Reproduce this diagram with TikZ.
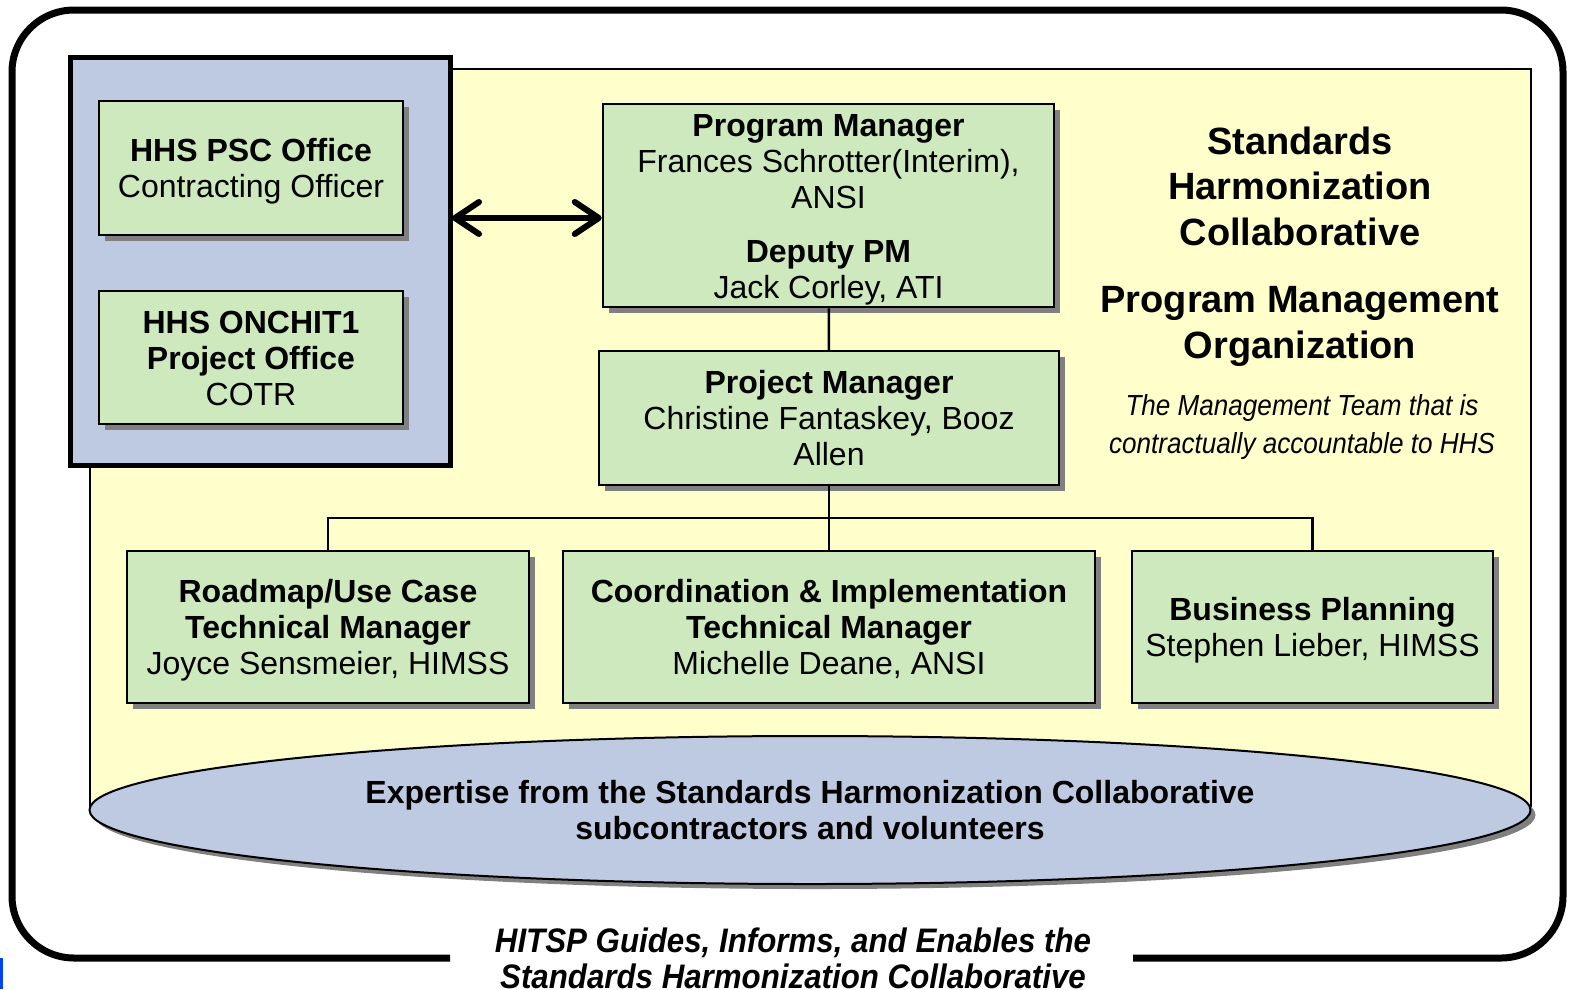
\documentclass[tikz,border=0pt]{standalone}
\usepackage{fontspec}
\setmainfont{Liberation Sans}
\newfontfamily\narrowfont[FakeStretch=0.9]{Liberation Sans}
\newfontfamily\captionfont[FakeStretch=0.92]{Liberation Sans}
\usetikzlibrary{arrows.meta,shapes.geometric,shadows}
\definecolor{pmgreen}{RGB}{205,233,189}
\definecolor{pmyellow}{RGB}{255,255,204}
\definecolor{pmblue}{RGB}{190,201,226}
\definecolor{pmshadow}{RGB}{128,128,128}
\newcommand\toprow{\rule{0pt}{30pt}}
\begin{document}
\begin{tikzpicture}[x=1pt,y=-1pt,
    rolebox/.style={draw, line width=2.5pt, fill=pmgreen, align=center, inner sep=0pt,
        font=\fontsize{32}{36}\selectfont,
        execute at end node={\rule[-7pt]{0pt}{0pt}},
        drop shadow={shadow xshift=6pt, shadow yshift=-6pt, fill=pmshadow, opacity=1}},
    link/.style={line width=2.5pt}]
\useasboundingbox (0,0) rectangle (1570,989);
\fill[blue!75!cyan] (0,958) rectangle (3,989);
\draw[line width=7pt, rounded corners=62pt] (450,958) -- (12,958) -- (12,10) -- (1563,10) -- (1563,958) -- (1133,958);
\filldraw[fill=pmyellow, line width=1.5pt] (90,808) -- (90,69) -- (1531,69) -- (1531,808);
\node[ellipse, draw, line width=2pt, fill=pmblue, minimum width=1441pt, minimum height=148pt,
    drop shadow={shadow xshift=5pt, shadow yshift=-5pt, fill=pmshadow, opacity=1},
    align=center, font=\fontsize{32}{36}\selectfont\bfseries] (expertise) at (810,810)
    {Expertise from the Standards Harmonization Collaborative\\subcontractors and volunteers};
\filldraw[fill=pmblue, line width=5pt] (70,57) rectangle (450,465);
\node[rolebox, minimum width=304pt, minimum height=134pt] (psc) at (251,168)
    {\toprow\textbf{HHS PSC Office}\\Contracting Officer};
\node[rolebox, minimum width=304pt, minimum height=133pt] (onchit) at (251,357.5)
    {\toprow\textbf{HHS ONCHIT1}\\\textbf{Project Office}\\COTR};
\node[rolebox, minimum width=451pt, minimum height=203pt] (pm) at (828.5,205.5)
    {\toprow\textbf{Program Manager}\\Frances Schrotter(Interim),\\ANSI\\[18pt]\textbf{Deputy PM}\\Jack Corley, ATI};
\node[rolebox, minimum width=460pt, minimum height=134pt] (prj) at (829,418)
    {\toprow\textbf{Project Manager}\\Christine Fantaskey, Booz\\Allen};
\node[rolebox, minimum width=402pt, minimum height=152pt] (road) at (328,627)
    {\toprow\textbf{Roadmap/Use Case}\\\textbf{Technical Manager}\\Joyce Sensmeier, HIMSS};
\node[rolebox, minimum width=532pt, minimum height=152pt] (coord) at (829,627)
    {\toprow\textbf{Coordination \& Implementation}\\\textbf{Technical Manager}\\Michelle Deane, ANSI};
\node[rolebox, minimum width=361pt, minimum height=152pt] (biz) at (1312.5,627)
    {\toprow\textbf{Business Planning}\\Stephen Lieber, HIMSS};
\coordinate (bar) at (829,518);
\draw[link] (pm) -- (prj);
\draw[link] (prj) -- (coord);
\draw[link] (road.north) |- (bar) -| (biz.north);
\draw[line width=6pt, {Straight Barb[round,length=24pt,width=32pt]}-{Straight Barb[round,length=24pt,width=32pt]}]
    (452,218) -- (pm.west |- 0,218);
\node[align=center, font=\fontsize{38}{45.5}\selectfont\bfseries] (shc) at (1300,186)
    {Standards\\Harmonization\\Collaborative};
\node[align=center, font=\fontsize{38}{45.5}\selectfont\bfseries] (pmo) at (1300,326.5)
    {Program Management\\Organization};
\node[align=center, font=\narrowfont\fontsize{29}{38}\selectfont\itshape] (team) at (1302,427)
    {The Management Team that is\\contractually accountable to HHS};
\node[align=center, font=\captionfont\fontsize{34}{36}\selectfont\bfseries\itshape] (caption) at (793,958)
    {HITSP Guides, Informs, and Enables the\\Standards Harmonization Collaborative};
\end{tikzpicture}
\end{document}
